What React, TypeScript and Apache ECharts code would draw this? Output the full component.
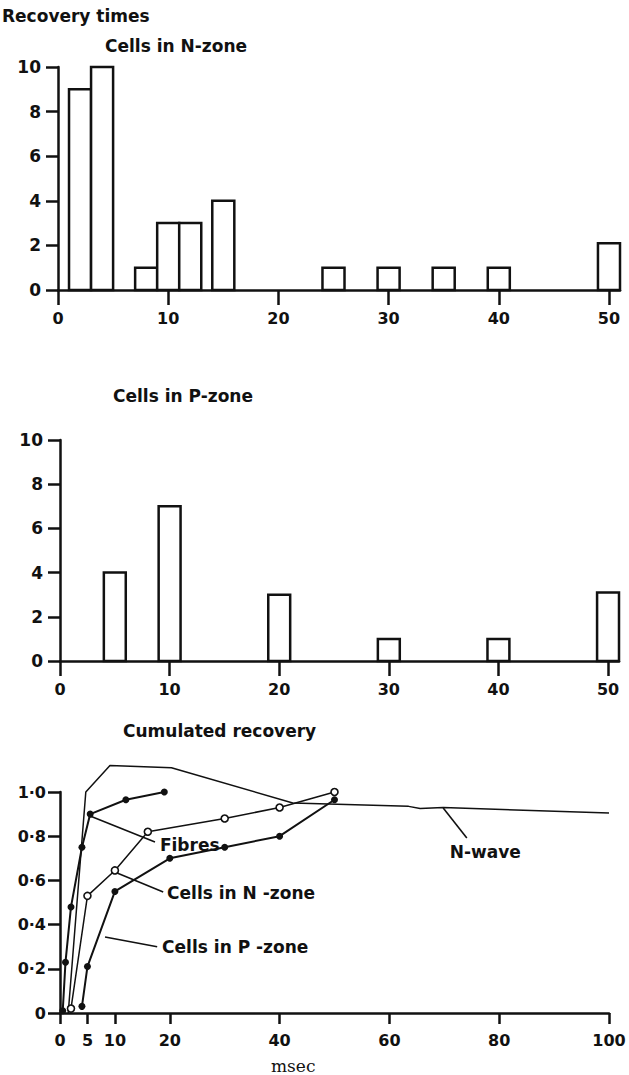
import React, { useEffect, useRef } from "react";
import * as echarts from "echarts";

// ---- Data ----
// Histogram bins: start, end (msec), count
const nZoneStart = [1, 3, 7, 9, 11, 14, 24, 29, 34, 39, 49];
const nZoneEnd = [3, 5, 9, 11, 13, 16, 26, 31, 36, 41, 51];
const nZoneCount = [9, 10, 1, 3, 3, 4, 1, 1, 1, 1, 2.1];

const pZoneStart = [4, 9, 19, 29, 39, 49];
const pZoneEnd = [6, 11, 21, 31, 41, 51];
const pZoneCount = [4, 7, 3, 1, 1, 3.1];

const histXTicks = [0, 10, 20, 30, 40, 50];
const cumXTicks = [0, 5, 10, 20, 40, 60, 80, 100];

// Cumulated recovery curves [msec, fraction]
const fibres = [[0.5, 0.01], [1, 0.23], [2, 0.48], [4, 0.75], [5.5, 0.9], [12, 0.965], [19, 1.0]];
const cellsN = [[2, 0.02], [5, 0.53], [10, 0.645], [16, 0.82], [30, 0.88], [40, 0.93], [50, 1.0]];
const cellsP = [[4, 0.03], [5, 0.21], [10, 0.55], [20, 0.7], [30, 0.75], [40, 0.8], [50, 0.965]];
const nWave = [[1.5, 0], [4.7, 1.0], [9.1, 1.12], [20.3, 1.11], [42.4, 0.95], [63.5, 0.935], [65.6, 0.925], [69.8, 0.93], [100, 0.905]];

// Annotation labels (text, anchor in data units) and leader lines
const annoText = ["Fibres", "Cells in N -zone", "Cells in P -zone", "N-wave"];
const annoAnchor = [[18.2, 0.76], [19.5, 0.543], [18.6, 0.3], [71.0, 0.728]];
const annoLeaders = [
  [[5.6, 0.89], [17.3, 0.774]],
  [[10.4, 0.633], [18.8, 0.548]],
  [[8.2, 0.344], [17.7, 0.3]],
  [[69.8, 0.928], [74.1, 0.792]],
];

const INK = "#111";
const FONT = "DejaVu Sans";

function bins(s: number[], e: number[], c: number[]) {
  return s.map((v, i) => [v, e[i], c[i]]);
}

const renderBin = (params: any, api: any) => {
  const p0 = api.coord([api.value(0), api.value(2)]);
  const p1 = api.coord([api.value(1), 0]);
  return {
    type: "rect",
    shape: { x: p0[0], y: p0[1], width: p1[0] - p0[0], height: p1[1] - p0[1] },
    style: { fill: "#fff", stroke: INK, lineWidth: 2.5 },
  };
};

export default function App() {
  const ref = useRef<HTMLDivElement>(null);
  useEffect(() => {
    if (!ref.current) return;
    const chart = echarts.init(ref.current, null, { renderer: "svg" });
    const axisLine = { show: true, lineStyle: { color: INK, width: 2.5 } };
    const labelStyle = { color: INK, fontFamily: FONT, fontWeight: "bold" as const, fontSize: 16 };
    const annoStyle = { color: INK, fontFamily: FONT, fontWeight: "bold" as const, fontSize: 17 };
    const xHist = (gi: number) => ({
      type: "value",
      gridIndex: gi,
      min: 0,
      max: 51,
      axisLine,
      axisTick: { show: true, length: 15, lineStyle: { color: INK, width: 2.5 }, customValues: histXTicks },
      axisLabel: { ...labelStyle, margin: 20, customValues: histXTicks },
      splitLine: { show: false },
    });
    const yHist = (gi: number) => ({
      type: "value",
      gridIndex: gi,
      min: 0,
      max: 10,
      interval: 2,
      axisLine,
      axisTick: { show: true, length: 12, lineStyle: { color: INK, width: 2.5 } },
      axisLabel: { ...labelStyle, fontSize: 17, margin: 17 },
      splitLine: { show: false },
    });
    const title = (text: string, left: number, top: number, extra: any = {}) => ({
      text,
      left,
      top,
      padding: 0,
      textStyle: { ...annoStyle, ...extra },
    });
    chart.setOption({
      animation: false,
      backgroundColor: "#fff",
      title: [
        title("Recovery times", 2, 7),
        title("Cells in N-zone", 105, 37),
        title("Cells in P-zone", 113, 387),
        title("Cumulated recovery", 123, 722),
        title("msec", 271, 1057, { fontFamily: "DejaVu Serif", fontWeight: "normal", fontSize: 17 }),
      ],
      grid: [
        { left: 58, top: 67, width: 562, height: 223 },
        { left: 60, top: 440, width: 559, height: 221 },
        { left: 60, top: 792, width: 549, height: 221 },
      ],
      xAxis: [
        xHist(0),
        xHist(1),
        {
          type: "value",
          gridIndex: 2,
          min: 0,
          max: 100,
          axisLine,
          axisTick: { show: true, length: 11, lineStyle: { color: INK, width: 2.5 }, customValues: cumXTicks },
          axisLabel: { ...labelStyle, margin: 19, customValues: cumXTicks },
          splitLine: { show: false },
        },
      ],
      yAxis: [
        yHist(0),
        yHist(1),
        {
          type: "value",
          gridIndex: 2,
          min: 0,
          max: 1,
          interval: 0.2,
          axisLine,
          axisTick: { show: true, length: 12, lineStyle: { color: INK, width: 2.5 } },
          axisLabel: {
            ...labelStyle,
            margin: 14,
            formatter: (v: number) => (v === 0 ? "0" : v.toFixed(1).replace(".", "·")),
          },
          splitLine: { show: false },
        },
      ],
      series: [
        {
          type: "custom",
          xAxisIndex: 0,
          yAxisIndex: 0,
          renderItem: renderBin,
          encode: { x: [0, 1], y: 2 },
          data: bins(nZoneStart, nZoneEnd, nZoneCount),
        },
        {
          type: "custom",
          xAxisIndex: 1,
          yAxisIndex: 1,
          renderItem: renderBin,
          encode: { x: [0, 1], y: 2 },
          data: bins(pZoneStart, pZoneEnd, pZoneCount),
        },
        {
          name: "N-wave",
          type: "line",
          xAxisIndex: 2,
          yAxisIndex: 2,
          data: nWave,
          showSymbol: false,
          symbol: "none",
          clip: false,
          lineStyle: { color: INK, width: 1.5 },
        },
        {
          name: "Fibres",
          type: "line",
          xAxisIndex: 2,
          yAxisIndex: 2,
          data: fibres,
          symbol: "circle",
          symbolSize: 7,
          itemStyle: { color: INK },
          lineStyle: { color: INK, width: 2 },
        },
        {
          name: "Cells in N-zone",
          type: "line",
          xAxisIndex: 2,
          yAxisIndex: 2,
          data: cellsN,
          symbol: "circle",
          symbolSize: 7,
          itemStyle: { color: "#fff", borderColor: INK, borderWidth: 1.6 },
          lineStyle: { color: INK, width: 1.5 },
        },
        {
          name: "Cells in P-zone",
          type: "line",
          xAxisIndex: 2,
          yAxisIndex: 2,
          data: cellsP,
          symbol: "circle",
          symbolSize: 7,
          itemStyle: { color: INK },
          lineStyle: { color: INK, width: 2 },
        },
        {
          type: "lines",
          coordinateSystem: "cartesian2d",
          xAxisIndex: 2,
          yAxisIndex: 2,
          data: annoLeaders.map((c) => ({ coords: c })),
          lineStyle: { color: INK, width: 1.6, opacity: 1 },
        },
        {
          type: "scatter",
          xAxisIndex: 2,
          yAxisIndex: 2,
          symbolSize: 0,
          itemStyle: { opacity: 1, color: INK },
          data: annoAnchor.map((p, i) => ({ value: p, name: annoText[i] })),
          label: {
            show: true,
            position: "right",
            distance: 0,
            formatter: (p: any) => p.name,
            ...annoStyle,
          },
        },
      ],
    });
    return () => chart.dispose();
  }, []);
  return (
    <div
      ref={ref}
      style={{ position: "absolute", left: 0, top: 0, width: 629, height: 1075, background: "#fff" }}
    />
  );
}
